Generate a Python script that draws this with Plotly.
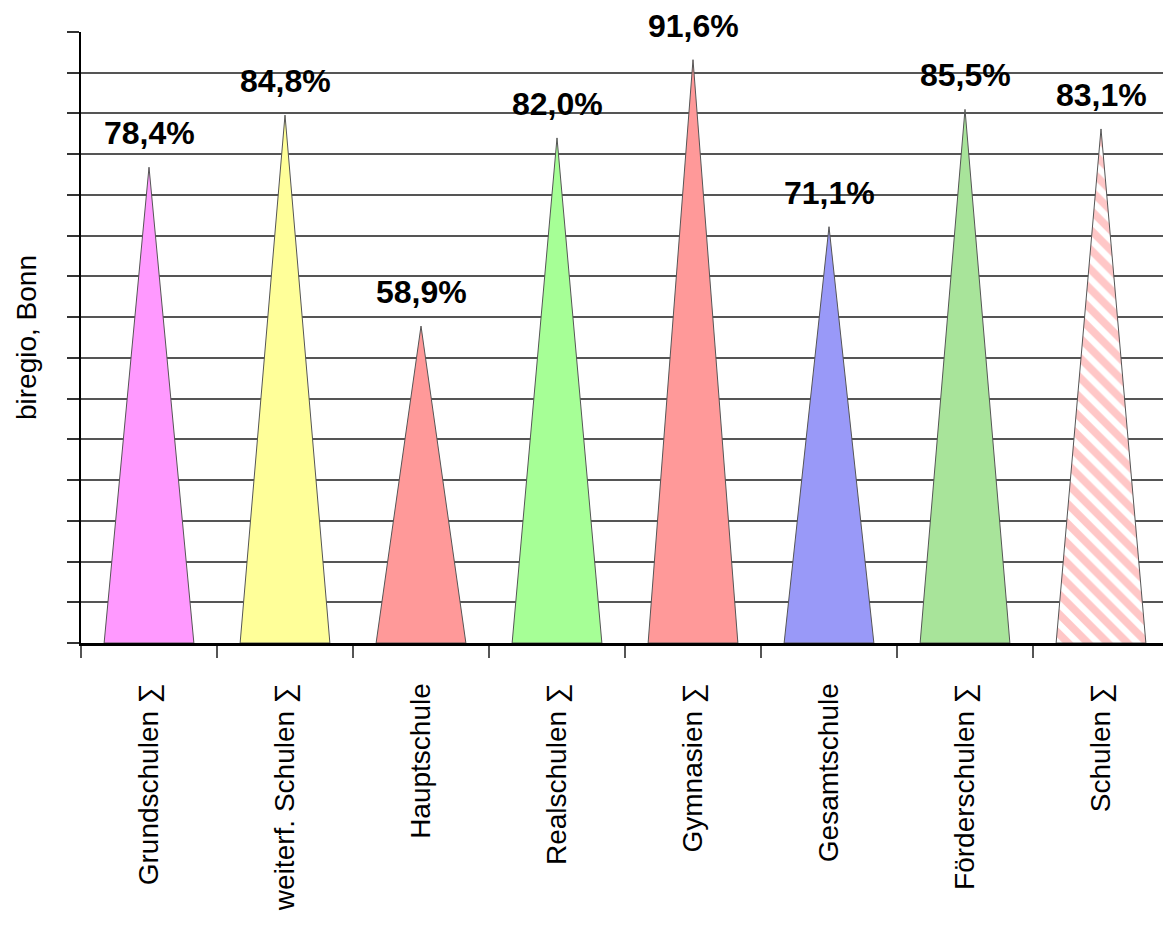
import plotly.graph_objects as go

categories = ["Grundschulen ∑", "weiterf. Schulen ∑", "Hauptschule", "Realschulen ∑",
              "Gymnasien ∑", "Gesamtschule", "Förderschulen ∑", "Schulen ∑"]
values = [78.4, 84.8, 58.9, 82.0, 91.6, 71.1, 85.5, 83.1]
colors = ["#FF99FF", "#FFFF99", "#FF9999", "#A6FF96", "#FF9999", "#9999F8", "#A8E49A", "#FF8F8F"]
y_min, y_max, y_step = 20, 95, 5
half_width = 0.33

fig = go.Figure()
for i, (cat, v, col) in enumerate(zip(categories, values, colors)):
    xs = [i - half_width, i, i + half_width, i - half_width]
    ys = [y_min, v, y_min, y_min]
    kw = dict(fill="toself", fillcolor=col)
    if i == len(categories) - 1:
        kw = dict(fill="toself", fillcolor="white",
                  fillpattern=dict(shape="\\", fgcolor=col, bgcolor="white", size=14, solidity=0.55))
    fig.add_trace(go.Scatter(x=xs, y=ys, mode="lines", name=cat,
                             line=dict(color="#555555", width=1), showlegend=False,
                             hoverinfo="skip", **kw))
    fig.add_annotation(x=i, y=v, text=f"{v:.1f}".replace(".", ",") + "%",
                       showarrow=False, yshift=34, yanchor="middle",
                       font=dict(family="Liberation Sans, Arial", size=32, color="black", weight="bold"))

fig.update_layout(
    width=1163, height=933,
    margin=dict(l=73, r=2, t=24, b=298),
    paper_bgcolor="white", plot_bgcolor="white",
    font=dict(family="Liberation Sans, Arial", color="black"),
)
fig.update_xaxes(
    range=[-0.5, len(categories) - 0.5],
    tickmode="array", tickvals=list(range(len(categories))), ticktext=categories,
    tickangle=-90, tickfont=dict(size=28), ticks="", showgrid=False, zeroline=False,
    showline=True, linecolor="black", linewidth=3,
    ticklabelstandoff=26,
    minor=dict(tickmode="array", tickvals=[k - 0.5 for k in range(len(categories) + 1)],
               ticks="outside", ticklen=12, tickcolor="#555555", tickwidth=2, showgrid=False),
)
fig.update_yaxes(
    range=[y_min, y_max], dtick=y_step, tick0=y_min, showticklabels=False,
    ticks="outside", ticklen=12, tickcolor="#333333", tickwidth=2,
    showgrid=True, gridcolor="#555555", gridwidth=2, zeroline=False,
    showline=True, linecolor="black", linewidth=2,
    title=dict(text="biregio, Bonn", font=dict(size=28), standoff=22),
)
fig.write_html("out.html")
